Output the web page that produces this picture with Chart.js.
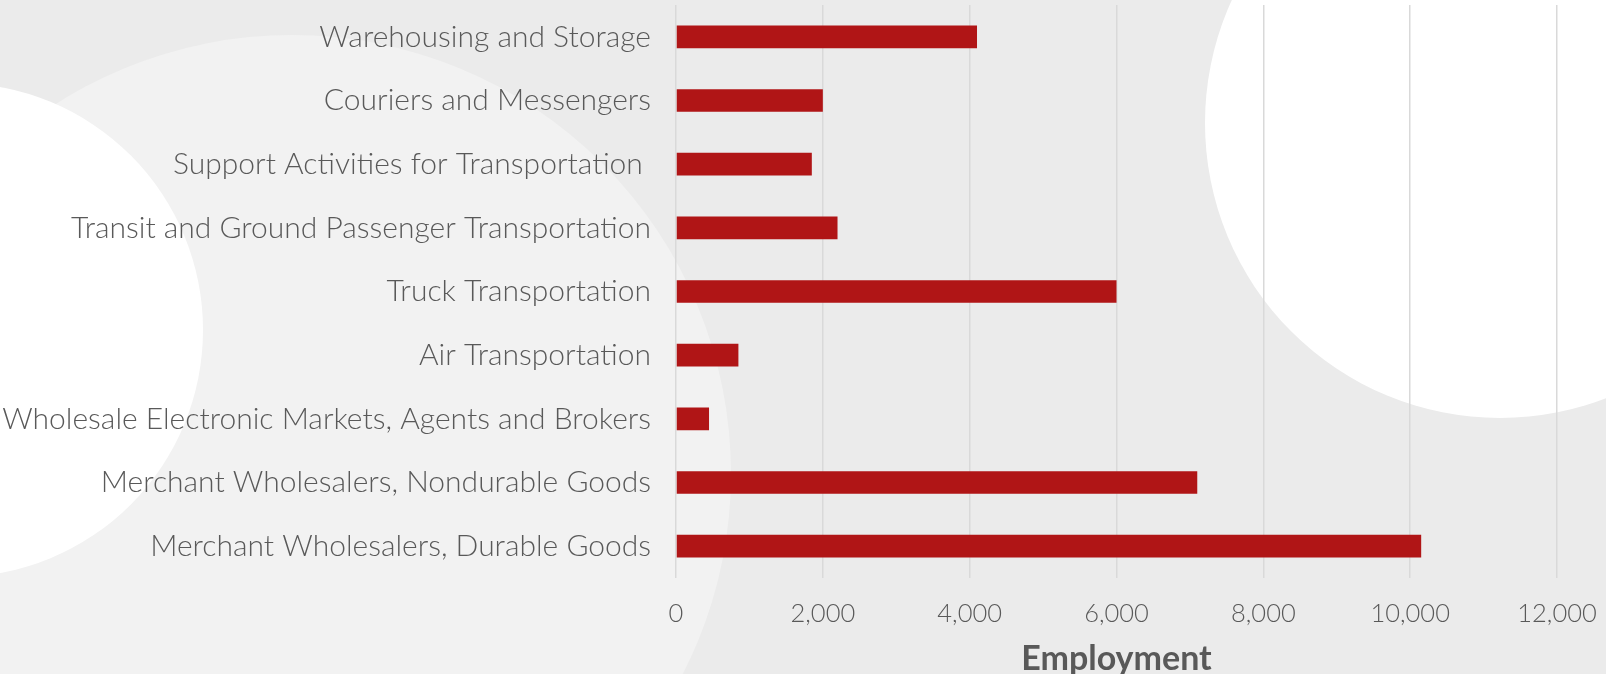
<!DOCTYPE html>
<html><head><meta charset="utf-8">
<script src="https://cdn.jsdelivr.net/npm/chart.js@4.4.0/dist/chart.umd.min.js"></script>
<style>html,body{margin:0;padding:0;overflow:hidden}#wrap{width:1606px;height:674px}</style>
</head><body>
<div id="wrap"><canvas id="jobs" width="1606" height="674"></canvas></div>
<script>
const industries = [
  'Warehousing and Storage',
  'Couriers and Messengers',
  'Support Activities for Transportation ',
  'Transit and Ground Passenger Transportation',
  'Truck Transportation',
  'Air Transportation',
  'Wholesale Electronic Markets, Agents and Brokers',
  'Merchant Wholesalers, Nondurable Goods',
  'Merchant Wholesalers, Durable Goods'
];
const employment = [4100, 2000, 1850, 2200, 6000, 850, 450, 7100, 10150];
const axisMin = 0;
const axisMax = 12000;
const axisStep = 2000;

// soft circles in the background, like the slide the chart came from
const backdrop = {
  id: 'backdrop',
  beforeDraw(chart) {
    const ctx = chart.ctx;
    ctx.save();
    ctx.fillStyle = '#ebebeb';
    ctx.fillRect(0, 0, chart.width, chart.height);
    const circle = (x, y, r, col) => {
      ctx.beginPath();
      ctx.arc(x, y, r, 0, Math.PI * 2);
      ctx.fillStyle = col;
      ctx.fill();
    };
    circle(292, 474, 439, '#f2f2f2');
    circle(-44, 330, 247, '#ffffff');
    circle(1500, 123, 295, '#ffffff');
    ctx.restore();
  }
};

// keep the plot box where the original has it
const noPad = (scale) => {
  scale.paddingTop = 0;
  scale.paddingBottom = 0;
  scale.paddingLeft = 0;
  scale.paddingRight = 0;
};

const labelColor = '#595959';

new Chart(document.getElementById('jobs'), {
  type: 'bar',
  data: {
    labels: industries,
    datasets: [{
      label: 'Employment',
      data: employment,
      backgroundColor: '#b01516',
      borderWidth: 0,
      categoryPercentage: 1,
      barPercentage: 0.355
    }]
  },
  options: {
    indexAxis: 'y',
    responsive: false,
    animation: false,
    layout: { autoPadding: false, padding: { top: 5, right: 49, bottom: 0, left: 0 } },
    plugins: { legend: { display: false }, tooltip: { enabled: false } },
    scales: {
      x: {
        min: axisMin,
        max: axisMax,
        ticks: {
          stepSize: axisStep,
          padding: 20,
          color: labelColor,
          font: { family: 'Lato', weight: '300', size: 25.5 }
        },
        grid: { color: '#d9d9d9', lineWidth: 1.5, drawTicks: false },
        border: { display: false },
        title: {
          display: true,
          text: 'Employment',
          color: labelColor,
          padding: 0,
          font: { family: 'Lato', weight: '700', size: 34, lineHeight: 0.9 }
        },
        afterFit(scale) { scale.height = 96; noPad(scale); }
      },
      y: {
        ticks: {
          padding: 25,
          color: labelColor,
          font: { family: 'Lato', weight: '300', size: 30 }
        },
        grid: { display: false, drawTicks: false },
        border: { display: false },
        afterFit(scale) { scale.width = 676; noPad(scale); }
      }
    }
  },
  plugins: [backdrop]
});
</script>
</body></html>
